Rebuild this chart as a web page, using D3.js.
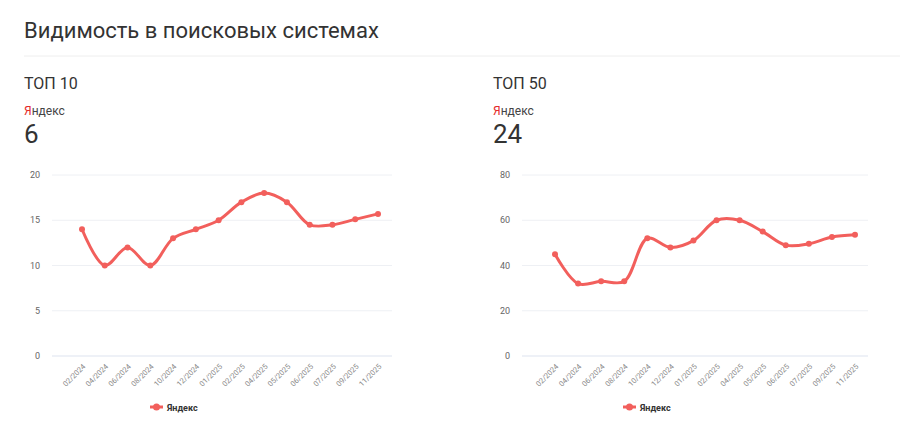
<!DOCTYPE html>
<html><head><meta charset="utf-8">
<script src="https://cdn.jsdelivr.net/npm/d3@7"></script>
<style>body{margin:0;background:#fff;font-family:Roboto,"Open Sans",sans-serif;}</style>
</head><body><svg id="c" width="900" height="445"></svg>
<script>
var months = ["02/2024","04/2024","06/2024","08/2024","10/2024","12/2024","01/2025","02/2025","04/2025","05/2025","06/2025","07/2025","09/2025","11/2025"];
var top10 = [14,10,12,10,13,14,15,17,18,17,14.5,14.5,15.1,15.7];
var top50 = [45,32,33,33,52,48,51,60,60,55,49,49.6,52.6,53.6];
var top10Ticks = [0,5,10,15,20];
var top50Ticks = [0,20,40,60,80];

var svg = d3.select("#c");
var red = "#f25f5c";

svg.append("text").attr("x", 24).attr("y", 38).attr("font-size", 22).attr("fill", "#333")
  .text("Видимость в поисковых системах");
svg.append("line").attr("x1", 24).attr("x2", 900).attr("y1", 56).attr("y2", 56).attr("stroke", "#eee");

function panel(ox, title, current, values, ticks, gx0, gx1, px0, px1, legendX) {
  var g = svg.append("g");
  g.append("text").attr("x", ox).attr("y", 89).attr("font-size", 16).attr("fill", "#333").text(title);
  var ya = g.append("text").attr("x", ox).attr("y", 115).attr("font-size", 12).attr("fill", "#444");
  ya.append("tspan").attr("fill", "#e52b2b").text("Я");
  ya.append("tspan").text("ндекс");
  g.append("text").attr("x", ox).attr("y", 143).attr("font-size", 26).attr("fill", "#333").text(current);

  var x = d3.scalePoint().domain(months).range([px0, px1]);
  var y = d3.scaleLinear().domain([0, d3.max(ticks)]).range([356, 175]);

  ticks.forEach(function(t) {
    g.append("line").attr("x1", gx0).attr("x2", gx1).attr("y1", y(t)).attr("y2", y(t))
      .attr("stroke", t === 0 ? "#dde3ef" : "#eef0f4");
    g.append("text").attr("x", gx0 - 12).attr("y", y(t) + 3).attr("text-anchor", "end")
      .attr("font-size", 9).attr("fill", "#666").text(t);
  });
  months.forEach(function(m) {
    g.append("text").attr("transform", "translate(" + (x(m) + 4) + "," + 367 + ") rotate(-45)")
      .attr("text-anchor", "end").attr("font-size", 7.5).attr("fill", "#888").text(m);
  });

  var line = d3.line().x(function(d, i) { return x(months[i]); }).y(function(d) { return y(d); })
    .curve(d3.curveCatmullRom.alpha(0.5));
  g.append("path").datum(values).attr("d", line).attr("fill", "none").attr("stroke", red).attr("stroke-width", 3);
  g.selectAll("circle").data(values).enter().append("circle")
    .attr("cx", function(d, i) { return x(months[i]); }).attr("cy", function(d) { return y(d); })
    .attr("r", 3).attr("fill", red);

  g.append("line").attr("x1", legendX - 30).attr("x2", legendX - 17).attr("y1", 407).attr("y2", 407)
    .attr("stroke", red).attr("stroke-width", 3);
  g.append("circle").attr("cx", legendX - 23.5).attr("cy", 407).attr("r", 3.5).attr("fill", red);
  g.append("text").attr("x", legendX - 13).attr("y", 410.5).attr("font-size", 9).attr("font-weight", "bold")
    .attr("fill", "#333").text("Яндекс");
}

panel(24, "ТОП 10", "6", top10, top10Ticks, 52, 392, 82, 378, 180);
panel(493, "ТОП 50", "24", top50, top50Ticks, 522, 868, 555, 855, 653);
</script></body></html>
